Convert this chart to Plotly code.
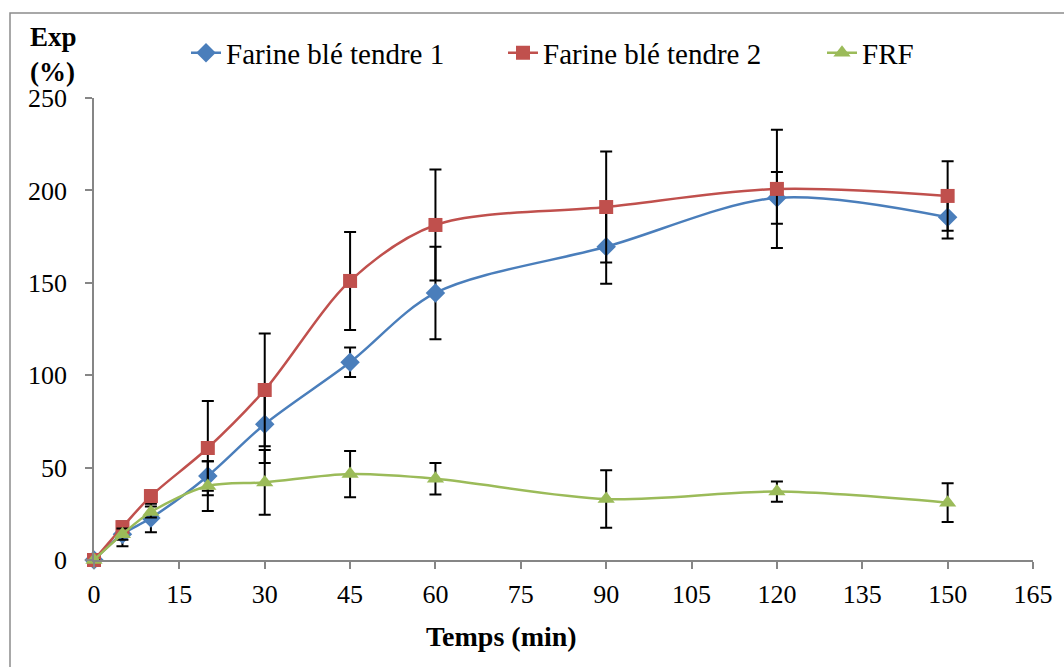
import plotly.graph_objects as go

temps = [0, 5, 10, 20, 30, 45, 60, 90, 120, 150]

ble1 = [0, 14, 22.7, 45.5, 73.5, 107, 144.5, 169.5, 196, 185.5]
ble1_err = [0, 6.5, 7.7, 8, 21, 8, 25, 20, 14, 11.5]

ble2 = [0, 17.8, 34.6, 60.6, 92, 151, 181.3, 191, 200.8, 197]
ble2_err = [0, 3, 3, 25.5, 30.5, 26.5, 30, 30, 32, 18.8]

frf = [0, 14, 26, 40, 42, 46.5, 44, 33, 37, 31]
frf_err = [0, 3, 3, 13.5, 17.5, 12.5, 8.5, 15.5, 5.5, 10.5]

names = ["Farine blé tendre 1", "Farine blé tendre 2", "FRF"]
colors = ["#4A7EBB", "#C0504D", "#9BBB59"]
symbols = ["diamond", "square", "triangle-up"]
legend_ids = ["legend", "legend2", "legend3"]
legend_left_px = [186, 503, 822]

x_ticks = [0, 15, 30, 45, 60, 75, 90, 105, 120, 135, 150, 165]
y_ticks = [0, 50, 100, 150, 200, 250]

FONT = "Liberation Serif"

fig = go.Figure()
for ys, errs, name, col, sym, lid in zip([ble1, ble2, frf], [ble1_err, ble2_err, frf_err], names, colors, symbols, legend_ids):
    fig.add_trace(go.Scatter(
        x=temps, y=ys, name=name, mode="lines+markers", legend=lid,
        line=dict(color=col, width=2.5, shape="spline", smoothing=0.9),
        marker=dict(symbol=sym, size=15 if sym != "square" else 14, color=col),
        error_y=dict(type="data", array=errs, visible=True, color="black", thickness=2, width=6),
        cliponaxis=False,
    ))

axis_col = "#868686"
fig.update_xaxes(range=[0, 165], tickvals=x_ticks, ticktext=[str(v) for v in x_ticks],
                 showline=True, linecolor=axis_col, linewidth=1.5, ticks="outside",
                 tickcolor=axis_col, ticklen=7, tickwidth=1.5, showgrid=False, zeroline=False,
                 tickfont=dict(family=FONT, size=26, color="black"), ticklabelstandoff=3)
fig.update_yaxes(range=[0, 250], tickvals=y_ticks, ticktext=[str(v) for v in y_ticks],
                 showline=True, linecolor=axis_col, linewidth=1.5, ticks="outside",
                 tickcolor=axis_col, ticklen=7, tickwidth=1.5, showgrid=False, zeroline=False,
                 tickfont=dict(family=FONT, size=26, color="black"), ticklabelstandoff=13)

legend_common = dict(orientation="h", xanchor="left", yanchor="middle", y=(560 - 53) / 462,
                     font=dict(family=FONT, size=29, color="black"), bgcolor="rgba(0,0,0,0)")
legend_layout = {}
for lid, lx in zip(legend_ids, legend_left_px):
    legend_layout[lid] = dict(legend_common, x=(lx - 94) / 939)

fig.update_layout(
    width=1064, height=667,
    margin=dict(l=94, r=31, t=98, b=107),
    paper_bgcolor="white", plot_bgcolor="white",
    font=dict(family=FONT, color="black"),
    showlegend=True,
    annotations=[
        dict(text="<b>Temps (min)</b>", x=(501 - 94) / 939, y=(560 - 636) / 462, xref="paper", yref="paper",
             showarrow=False, font=dict(family=FONT, size=28, color="black"), xanchor="center", yanchor="middle"),
        dict(text="<b>Exp<br>(%)</b>", x=(28 - 94) / 939, y=(560 - 55) / 462, xref="paper", yref="paper",
             showarrow=False, font=dict(family=FONT, size=27, color="black"), xanchor="left", yanchor="middle",
             align="left"),
    ],
    shapes=[dict(type="rect", xref="paper", yref="paper", x0=(10 - 94) / 939, y0=(560 - 680) / 462,
                 x1=(1080 - 94) / 939, y1=(560 - 13) / 462, line=dict(color="#8C8C8C", width=1.5),
                 fillcolor="rgba(0,0,0,0)", layer="below")],
    **legend_layout,
)

fig.write_html("out.html")
